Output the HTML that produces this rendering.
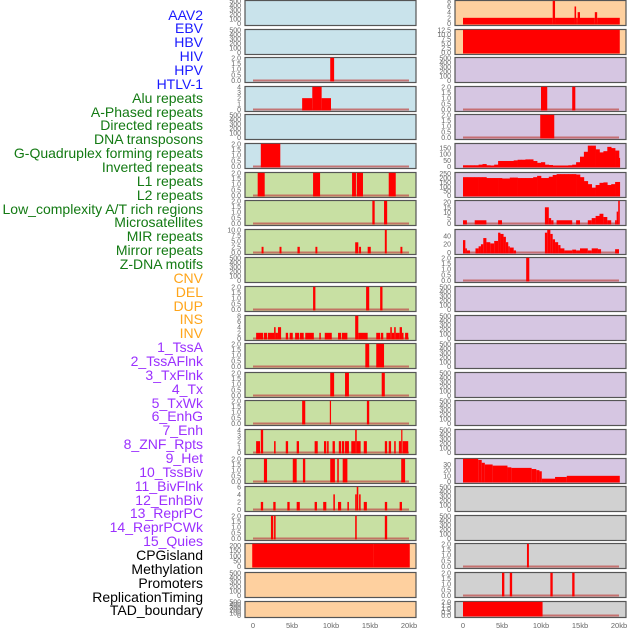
<!DOCTYPE html>
<html><head><meta charset="utf-8">
<style>
body{margin:0;background:#fff;}
#wrap{position:relative;width:630px;height:630px;overflow:hidden;font-family:"Liberation Sans",sans-serif;}
.lbl{position:absolute;right:427px;font-size:14px;line-height:14px;white-space:nowrap;text-align:right;}
</style></head>
<body>
<div id="wrap">
<div id="labels"></div>
<svg id="svg" width="630" height="630" xmlns="http://www.w3.org/2000/svg"></svg>
</div>
<script>
// ---- data ----
const trackNames = ["AAV2","EBV","HBV","HIV","HPV","HTLV-1","Alu repeats","A-Phased repeats","Directed repeats","DNA transposons","G-Quadruplex forming repeats","Inverted repeats","L1 repeats","L2 repeats","Low_complexity A/T rich regions","Microsatellites","MIR repeats","Mirror repeats","Z-DNA motifs","CNV","DEL","DUP","INS","INV","1_TssA","2_TssAFlnk","3_TxFlnk","4_Tx","5_TxWk","6_EnhG","7_Enh","8_ZNF_Rpts","9_Het","10_TssBiv","11_BivFlnk","12_EnhBiv","13_ReprPC","14_ReprPCWk","15_Quies","CPGisland","Methylation","Promoters","ReplicationTiming","TAD_boundary"];
const trackColors = ["#1a1aff","#1a1aff","#1a1aff","#1a1aff","#1a1aff","#1a1aff","#137a13","#137a13","#137a13","#137a13","#137a13","#137a13","#137a13","#137a13","#137a13","#137a13","#137a13","#137a13","#137a13","#ffa51a","#ffa51a","#ffa51a","#ffa51a","#ffa51a","#9b30ff","#9b30ff","#9b30ff","#9b30ff","#9b30ff","#9b30ff","#9b30ff","#9b30ff","#9b30ff","#9b30ff","#9b30ff","#9b30ff","#9b30ff","#9b30ff","#9b30ff","#000","#000","#000","#000","#000"];
const xTickLabels = ["0","5kb","10kb","15kb","20kb"];
const xTickValues = [0,5000,10000,15000,20000];
const bgLeft = ["b","b","b","b","b","b","g","g","g","g","g","g","g","g","g","g","g","g","g","o","o","o"];
const bgRight = ["o","o","p","p","p","p","p","p","p","p","p","p","p","p","p","p","p","r","r","r","r","r"];
const ticks500 = [0,100,200,300,400,500];
const t2 = [0,0.5,1,1.5,2];
const yTicksLeft = [ticks500,ticks500,t2,[0,1,2,3,4],ticks500,t2,t2,t2,[0,2.5,5,7.5,10],ticks500,t2,[0,2,4,6,8],t2,t2,t2,[0,1,2,3,4],t2,[0,2,4,6],t2,[0,50,100,150,200],ticks500,ticks500];
const yMaxLeft = [500,500,2,4,500,2,2,2,10,500,2,8,2,2,2,4,2,6,2,215,500,500];
const yTicksRight = [[0,2,4,6,8],[0,2.5,5,7.5,10,12.5],ticks500,t2,t2,[0,50,100,150],[0,50,100,150,200,250],[0,5,10,15,20],[0,20,40],t2,ticks500,ticks500,ticks500,ticks500,ticks500,ticks500,[0,10,20,30],ticks500,ticks500,t2,t2,t2];
const yMaxRight = [8,12.5,500,2,2,185,260,21,55,2,500,500,500,500,500,500,40,500,500,2,2,2];
// bars: [startKb, endKb, value]
const barsLeft = [
 [],[],
 [[9.9,10.4,2]],
 [[6.3,7.6,2],[7.6,8.8,4],[8.8,10.0,2]],
 [],
 [[1.0,3.5,2]],
 [[0.6,1.5,2],[7.7,8.6,2],[12.7,13.2,2],[13.3,14.1,2],[17.4,18.3,2]],
 [[15.3,15.6,2],[16.8,17.2,2]],
 [[1.1,1.35,2.5],[3.4,3.65,2.5],[5.7,6.0,2.5],[8.0,8.25,2.5],[13.1,13.5,4.5],[13.6,13.85,2.5],[14.7,15.1,2.5],[16.9,17.15,10],[18.9,19.15,2.5]],
 [],
 [[7.7,8.0,2],[14.5,14.9,2],[16.3,16.6,2]],
 [[0.4,1.3,2],[1.4,1.8,2],[1.9,2.7,2],[2.7,2.9,4],[2.9,3.2,2],[3.2,3.6,4],[4.2,4.5,2],[4.7,5.1,2],[5.4,5.9,2],[6.0,6.5,2],[6.7,7.8,2],[8.5,8.7,2],[9.2,10.1,2],[10.9,11.3,2],[11.4,12.1,2],[13.1,13.5,8],[13.5,14.7,2],[15.8,16.3,2],[16.4,16.7,2],[17.1,17.6,2],[17.6,17.8,4],[17.8,18.1,2],[18.1,18.3,4],[18.3,18.8,2],[18.8,19.1,4],[19.1,19.3,2],[19.5,19.9,2]],
 [[14.4,14.9,2],[15.8,16.8,2]],
 [[9.9,10.4,2],[11.8,12.3,2],[16.5,16.9,2]],
 [[6.3,6.7,2],[9.85,10.0,2],[14.6,14.9,2]],
 [[0.4,0.9,2],[1.0,1.3,4],[2.7,2.9,2],[4.2,4.5,2],[5.6,5.9,2],[7.9,8.3,2],[9.1,9.4,2],[9.5,9.7,2],[10.2,10.5,2],[11.0,11.3,2],[11.4,11.7,2],[11.8,12.3,2],[12.6,13.1,2],[13.1,13.3,4],[13.3,13.8,2],[14.2,14.6,2],[16.9,17.2,2],[17.4,17.7,2],[18.1,18.3,2],[18.7,19.0,2],[19.0,19.1,4],[19.2,19.9,2]],
 [[1.4,1.8,2],[5.1,5.6,2],[6.4,6.7,2],[9.9,10.5,2],[10.8,11.0,2],[11.5,12.1,2],[19.0,19.5,2]],
 [[1.0,1.3,2],[2.6,2.9,2],[4.4,4.7,2],[5.6,6.0,2],[7.9,8.2,2],[9.0,9.4,2],[10.3,10.5,4],[10.9,11.3,2],[12.1,12.3,2],[13.1,13.3,4],[13.3,13.5,6],[13.6,13.8,4],[14.2,14.6,2],[16.9,17.2,2],[18.8,19.1,2]],
 [[2.3,2.6,2],[2.7,2.9,2],[13.1,13.3,2],[16.9,17.2,2]],
 [[-0.1,15.5,215],[15.5,20.1,215]],
 [],[]
];
const barsRight = [
 [[0,11.5,2],[11.5,11.8,8],[11.8,14.3,2],[14.3,14.5,6],[14.5,14.7,2],[14.7,15.0,4],[15.0,16.9,2],[16.9,17.2,4],[17.2,20.1,2]],
 [[0,20.1,12.5]],
 [],
 [[10.0,10.8,2],[14.0,14.4,2]],
 [[9.9,11.7,2]],
 [], [], // profile panels drawn from bins below
 [[0,0.5,3],[1.5,3,3],[4.5,5,3],[10.5,11,15],[11,11.3,5],[11.3,11.6,3],[12,14,3],[14.5,15,3],[16,16.5,3],[16.5,17,5],[17,17.5,7],[17.5,18,9],[18,18.5,6],[18.5,19,3],[19.5,19.7,3],[19.7,19.9,11],[19.9,20.1,21]],
 [[0,0.3,30],[0.3,0.5,10],[0.5,0.9,5],[1.6,2,10],[2,2.3,15],[2.3,2.6,20],[2.6,3,35],[3,3.5,25],[3.5,4,22],[4,4.5,28],[4.5,4.8,48],[4.8,5.2,45],[5.2,5.5,38],[5.5,5.8,25],[5.8,6,15],[6,6.5,12],[6.5,6.8,5],[10.5,10.8,48],[10.8,11.2,55],[11.2,11.5,45],[11.5,11.8,32],[11.8,12.2,25],[12.2,12.5,18],[12.5,13,10],[13,14,5],[14,14.5,7],[14.5,15,5],[15,16,10],[16,16.5,5],[16.5,17.3,10],[17.3,17.7,8],[19.5,20,8]],
 [[8.1,8.5,2]],
 [],[],[],[],[],[],
 [[0,1.95,40],[1.95,2.4,38],[2.4,2.8,33],[2.8,3.8,30],[3.8,5.7,28],[5.7,6.2,25],[6.2,8.8,24],[8.8,9.4,22],[9.4,9.8,20],[9.8,10.1,18],[10.1,11.8,5],[11.8,13.3,8],[13.3,20.1,10]],
 [],[],
 [[8.2,8.45,2]],
 [[5.0,5.3,2],[6.0,6.3,2],[11.2,11.5,2],[14.0,14.3,2]],
 [[0,10.2,2]]
];
// 0.5kb bins for profile panels
const profileG4 = [10,10,10,10,15,20,10,8,15,45,45,45,45,50,55,55,58,58,45,30,35,15,12,8,8,8,8,10,15,35,80,120,170,170,140,115,125,160,150,130,70];
const profileL1 = [210,210,210,210,210,210,200,200,200,200,195,195,205,205,200,200,200,200,210,225,200,200,215,235,245,245,245,245,245,240,210,165,130,90,120,145,150,120,130,155,155];
const profileRightIdx = {5: profileG4, 6: profileL1};
const hasBaseLeft = [0,0,1,1,0,1,1,1,1,0,1,1,1,1,1,1,1,1,1,1,0,0];
const hasBaseRight = [1,1,0,1,1,1,1,1,1,1,0,0,0,0,0,0,1,0,0,1,1,1];

// ---- layout ----
const NS="http://www.w3.org/2000/svg";
const svg=document.getElementById('svg');
const colX=[{x0:245,x1:416,k0:253,k1:409},{x0:455,x1:626,k0:463,k1:619}];
const bgCol={b:"#c9e3eb",g:"#c8e0a3",o:"#fed09f",p:"#d6c6e2",r:"#d1d1d1"};
function rowTop(i){return Math.round(i*28.6);}
function rowH(i){return i===21?16:25;}
function xScale(c,kb){return colX[c].k0+(colX[c].k1-colX[c].k0)*kb/20;}
function yScale(i,v,ymax){const b=rowTop(i)+rowH(i)-1.5, t=rowTop(i)+0.8;return b-(b-t)*v/ymax;}
function mk(tag,attrs){const e=document.createElementNS(NS,tag);for(const k in attrs)e.setAttribute(k,attrs[k]);svg.appendChild(e);return e;}
function fmt(v,arr){const dec=arr.some(a=>a%1!==0)?1:0;return v.toFixed(dec);}

function drawPanel(c,i,bg,ticks,ymax,bars,base,profile){
  const X=colX[c], t=rowTop(i), h=rowH(i);
  const r=mk('rect',{x:X.x0,y:t+0.5,width:X.x1-X.x0,height:h,fill:bgCol[bg],stroke:"#555",'stroke-width':1.2});
  
  
  ticks.forEach(v=>{
    const tx=mk('text',{x:X.x0-4,y:yScale(i,v,ymax)+2.5,'font-size':7,'text-anchor':'end',fill:"#666",'font-family':'Liberation Sans, sans-serif'});
    tx.textContent=fmt(v,ticks);
    
    
  });
  if(base){
    const bl=mk('rect',{x:xScale(c,0),y:yScale(i,0,ymax)-1,width:xScale(c,20)-xScale(c,0),height:2,fill:"#c0504d",opacity:0.75});
    
    
  }
  bars.forEach(b=>{
    const x0=xScale(c,b[0]), x1=xScale(c,b[1]);
    const y=yScale(i,Math.min(b[2],ymax),ymax), y0=yScale(i,0,ymax)+1;
    const br=mk('rect',{x:x0,y:y,width:Math.max(1.2,x1-x0),height:y0-y,fill:"#ff0000"});
    
    
  });
  if(profile){
    profile.forEach((v,k)=>{
      const x0=xScale(c,k*0.5), x1=xScale(c,Math.min(20.1,k*0.5+0.5));
      const y=yScale(i,Math.min(v,ymax),ymax), y0=yScale(i,0,ymax)+1;
      const br=mk('rect',{x:x0,y:y,width:x1-x0+0.3,height:y0-y,fill:"#ff0000"});
      
      
    });
  }
}
for(let i=0;i<22;i++){
  drawPanel(0,i,bgLeft[i],yTicksLeft[i],yMaxLeft[i],barsLeft[i],hasBaseLeft[i],null);
  drawPanel(1,i,bgRight[i],yTicksRight[i],yMaxRight[i],barsRight[i],hasBaseRight[i],profileRightIdx[i]||null);
}
for(let c=0;c<2;c++){
  xTickValues.forEach((v,k)=>{
    const tx=mk('text',{x:xScale(c,v/1000),y:628,'font-size':7.5,'text-anchor':'middle',fill:"#666",'font-family':'Liberation Sans, sans-serif'});
    tx.textContent=xTickLabels[k];
    
    
  });
}
const lab=document.getElementById('labels');
trackNames.forEach((n,k)=>{
  const d=document.createElement('div');
  d.className='lbl';
  d.style.top=(15+k*13.86-7.5)+'px';
  d.style.color=trackColors[k];
  d.textContent=n;
  
  
  lab.appendChild(d);
});
</script>
</body></html>
